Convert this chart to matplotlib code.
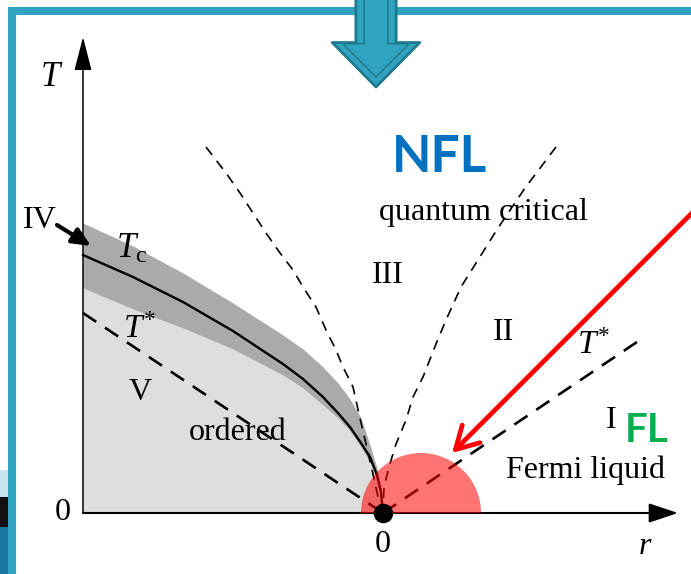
import matplotlib.pyplot as plt
from matplotlib.patches import Wedge, Rectangle

# values (1 unit = 100 px, quantum critical point at origin)
tc_r = [-3.0, -2.5, -2.0, -1.5, -1.0, -0.8, -0.6, -0.45, -0.33, -0.22, -0.13, -0.06, -0.02, 0.0]
tc_T = [2.58, 2.36, 2.11, 1.82, 1.49, 1.34, 1.16, 1.00, 0.86, 0.70, 0.56, 0.38, 0.21, 0.0]
band_upper = [2.90, 2.67, 2.40, 2.10, 1.78, 1.64, 1.46, 1.30, 1.14, 0.95, 0.68, 0.45, 0.25, 0.0]
band_lower = [2.25, 2.04, 1.85, 1.64, 1.38, 1.25, 1.08, 0.95, 0.82, 0.66, 0.50, 0.33, 0.18, 0.0]

# crossover lines bounding the quantum critical fan
left_fan_r = [-1.77, -1.57, -1.43, -1.30, -1.17, -1.03, -0.90, -0.80, -0.67, -0.57,
              -0.47, -0.40, -0.30, -0.24, -0.17, -0.10, -0.05, 0.0]
left_fan_T = [3.66, 3.40, 3.20, 3.00, 2.80, 2.60, 2.43, 2.26, 2.06, 1.83,
              1.63, 1.46, 1.26, 0.99, 0.69, 0.39, 0.16, 0.0]
right_fan_r = [1.73, 1.42, 1.15, 0.78, 0.63, 0.53, 0.40, 0.30, 0.23, 0.13, 0.06, 0.01, 0.0]
right_fan_T = [3.66, 3.25, 2.85, 2.26, 1.93, 1.69, 1.36, 1.16, 0.93, 0.69, 0.46, 0.26, 0.0]

# T* lines
tstar_left_r = [-3.0, 0.0]
tstar_left_T = [2.0, 0.0]
tstar_right_r = [0.0, 2.54]
tstar_right_T = [0.0, 1.71]

# axes extents
r_axis = [-3.0, 2.95]
T_axis = [0.0, 4.76]

# red highlight around the QCP
fl_center = 0.38
fl_radius = 0.60

plt.rcParams['mathtext.fontset'] = 'custom'
plt.rcParams['mathtext.rm'] = 'Liberation Serif'
plt.rcParams['mathtext.it'] = 'Liberation Serif:italic'

fig = plt.figure(figsize=(6.91, 5.74), dpi=100)
ax = fig.add_axes([0, 0, 1, 1])
ax.set_xlim(-3.83, 3.08)
ax.set_ylim(-0.61, 5.13)
ax.axis('off')

light = '#dedede'
dark = '#aaaaaa'
teal = '#2fa3bf'
teal_dark = '#1f7a8f'

# ordered phase and fluctuation band
ax.fill_between(tc_r, 0, band_lower, color=light, lw=0, zorder=1)
ax.fill_between(tc_r, band_lower, band_upper, color=dark, lw=0, zorder=1)
ax.plot(tc_r, tc_T, color='black', lw=1.7, zorder=3)

ax.plot(left_fan_r, left_fan_T, color='black', lw=1.2, dashes=(6, 4.5), zorder=3)
ax.plot(right_fan_r, right_fan_T, color='black', lw=1.2, dashes=(6, 4.5), zorder=3)
ax.plot(tstar_left_r, tstar_left_T, color='black', lw=1.9, dashes=(6, 4), zorder=3)
ax.plot(tstar_right_r, tstar_right_T, color='black', lw=1.9, dashes=(6, 4), zorder=3)

# axes with arrow heads
ax.annotate('', xy=(r_axis[0], T_axis[1]), xytext=(r_axis[0], T_axis[0]),
            arrowprops=dict(arrowstyle='-|>,head_length=21,head_width=5.4',
                            mutation_scale=1, lw=1.1, color='black',
                            shrinkA=0, shrinkB=0), zorder=4)
ax.annotate('', xy=(r_axis[1], 0), xytext=(r_axis[0], 0),
            arrowprops=dict(arrowstyle='-|>,head_length=18,head_width=6',
                            mutation_scale=1, lw=1.5, color='black',
                            shrinkA=0, shrinkB=0), zorder=4)

serif = 'Liberation Serif'
fs = 23
ax.text(-3.33, 4.36, 'T', fontsize=25, family=serif, style='italic', ha='center', va='center')
ax.text(-3.20, 0.0, '0', fontsize=fs, family=serif, ha='center', va='center')
ax.text(0.0, -0.32, '0', fontsize=fs, family=serif, ha='center', va='center')
ax.text(2.62, -0.33, 'r', fontsize=fs, family=serif, style='italic', ha='center', va='center')
ax.text(-3.43, 2.93, 'IV', fontsize=fs, family=serif, ha='center', va='center')
ax.text(-2.43, 1.20, 'V', fontsize=fs, family=serif, ha='center', va='center')
ax.text(0.05, 2.38, 'III', fontsize=fs, family=serif, ha='center', va='center')
ax.text(1.20, 1.80, 'II', fontsize=fs, family=serif, ha='center', va='center')
ax.text(2.28, 0.92, 'I', fontsize=fs, family=serif, ha='center', va='center')
ax.text(-1.45, 0.81, 'ordered', fontsize=fs, family=serif, ha='center', va='center', zorder=2)
ax.text(1.00, 3.01, 'quantum critical', fontsize=fs, family=serif, ha='center', va='center')
ax.text(2.02, 0.43, 'Fermi liquid', fontsize=fs, family=serif, ha='center', va='center')
ax.text(-2.51, 2.65, r'$T_\mathrm{c}$', fontsize=25, ha='center', va='center')
ax.text(-2.43, 1.85, r'$T^{*}$', fontsize=24, ha='center', va='center')
ax.text(2.11, 1.69, r'$T^{*}$', fontsize=24, ha='center', va='center')

ax.text(0.57, 3.56, 'NFL', fontsize=37, family='Lato', weight='bold', color='#0070c0',
        ha='center', va='center')
ax.text(2.64, 0.83, 'FL', fontsize=29, family='Lato', weight='bold', color='#00b050',
        ha='center', va='center')

# arrow pointing at region IV
ax.annotate('', xy=(-2.92, 2.67), xytext=(-3.26, 2.88),
            arrowprops=dict(arrowstyle='-|>,head_length=11,head_width=5',
                            mutation_scale=1, lw=3, color='black',
                            shrinkA=0, shrinkB=0), zorder=5)

# red half disk and QCP dot
ax.add_patch(Wedge((fl_center, 0), fl_radius, 0, 180, color='red', alpha=0.55, lw=0, zorder=6))
ax.plot([0], [0], 'o', color='black', ms=13, zorder=7)

ax.annotate('', xy=(0.69, 0.60), xytext=(3.2, 3.11),
            arrowprops=dict(arrowstyle='->,head_length=16,head_width=9',
                            mutation_scale=1, lw=3.4, color='red',
                            shrinkA=0, shrinkB=0), zorder=8)

# slide frame, big arrow and a bit of slide background
ax.add_patch(Rectangle((12 / 691, -0.1), 1.2, 1.1 - 11 / 574, transform=ax.transAxes,
                       fill=False, ec=teal, lw=5.8, clip_on=False, zorder=9))
ax.add_patch(Rectangle((0, 77 / 574), 8 / 691, 27 / 574, transform=ax.transAxes,
                       color='#c5e4ee', lw=0, zorder=9))
ax.add_patch(Rectangle((0, 47 / 574), 8 / 691, 30 / 574, transform=ax.transAxes,
                       color='#111111', lw=0, zorder=9))
ax.add_patch(Rectangle((0, 0), 8 / 691, 47 / 574, transform=ax.transAxes,
                       color='#1c74a0', lw=0, zorder=9))

ax.annotate('', xy=(-0.07, 4.26), xytext=(-0.07, 5.4),
            arrowprops=dict(arrowstyle='simple,head_length=32,head_width=63,tail_width=29',
                            mutation_scale=1, fc=teal, ec=teal_dark, lw=2,
                            shrinkA=0, shrinkB=0), zorder=10)
ax.annotate('', xy=(-0.07, 4.36), xytext=(-0.07, 5.4),
            arrowprops=dict(arrowstyle='simple,head_length=24,head_width=48,tail_width=17',
                            mutation_scale=1, fc='none', ec=teal_dark, lw=1.2,
                            shrinkA=0, shrinkB=0), zorder=10)

fig.savefig('out.png', dpi=100)
